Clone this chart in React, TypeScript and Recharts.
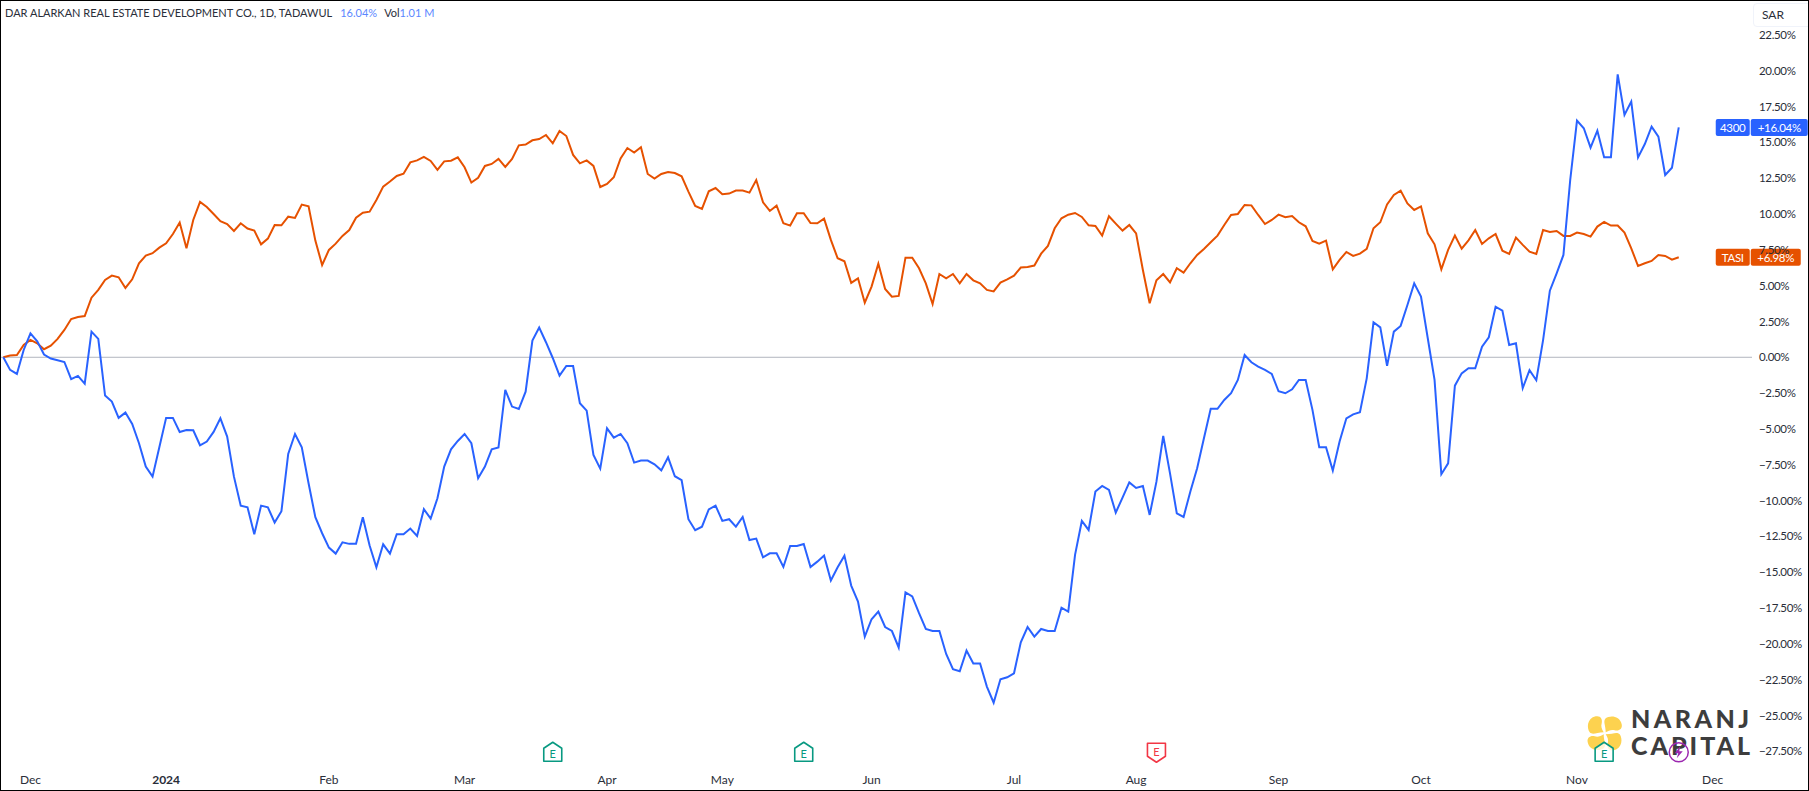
import { LineChart, Line, XAxis, YAxis, ReferenceLine, ReferenceDot } from 'recharts';

const W = 1809;
const H = 791;
const FONT = 'Lato, "Open Sans", sans-serif';

const BLUE = '#2962ff';
const ORANGE = '#e65100';
const TEXT = '#2a2e39';

// % change from first bar
const darValues = [
  0, -0.88, -1.16, 0.51, 1.67, 1.12, 0.19, -0.09, -0.21, -0.33,
  -1.53, -1.3, -1.84, 1.79, 1.28, -2.67, -3.09, -4.23, -3.86, -4.65,
  -6.0, -7.63, -8.33, -6.28, -4.23, -4.23, -5.21, -5.07, -5.09, -6.14,
  -5.88, -5.21, -4.26, -5.53, -8.33, -10.35, -10.47, -12.35, -10.35, -10.47,
  -11.53, -10.74, -6.74, -5.35, -6.28, -8.79, -11.16, -12.28, -13.28, -13.7,
  -12.91, -13.02, -13.02, -11.16, -13.14, -14.65, -13.05, -13.7, -12.35, -12.35,
  -11.95, -12.47, -10.6, -11.26, -9.84, -7.63, -6.42, -5.84, -5.35, -6.0,
  -8.44, -7.63, -6.42, -6.3, -2.28, -3.44, -3.61, -2.4, 1.16, 2.07,
  1.05, -0.05, -1.28, -0.61, -0.61, -3.21, -3.72, -6.82, -7.77, -4.96,
  -5.61, -5.35, -6.0, -7.35, -7.21, -7.21, -7.47, -7.89, -6.98, -8.3,
  -8.58, -11.3, -12.07, -11.82, -10.61, -10.35, -11.42, -11.3, -11.82, -11.14,
  -12.75, -12.65, -13.96, -13.68, -13.68, -14.63, -13.17, -13.17, -13.03, -14.63,
  -14.26, -13.84, -15.58, -14.65, -13.84, -15.93, -17.05, -19.49, -18.28, -17.75,
  -18.82, -19.1, -20.25, -16.4, -16.68, -17.86, -18.96, -19.1, -19.1, -20.7,
  -21.77, -21.91, -20.47, -21.37, -21.37, -22.98, -24.1, -22.47, -22.33, -22.05,
  -19.89, -18.82, -19.49, -18.96, -19.1, -19.1, -17.47, -17.75, -13.79, -11.42,
  -12.05, -9.37, -8.98, -9.26, -10.84, -9.79, -8.73, -9.12, -8.98, -11.0,
  -8.68, -5.49, -8.1, -10.89, -11.14, -9.37, -7.75, -5.65, -3.6, -3.6,
  -2.98, -2.51, -1.58, 0.16, -0.35, -0.65, -0.88, -1.16, -2.37, -2.51,
  -2.23, -1.58, -1.58, -3.67, -6.28, -6.28, -7.91, -5.88, -4.26, -3.98,
  -3.84, -1.47, 2.44, 2.09, -0.6, 1.79, 2.19, 3.65, 5.16, 4.23,
  1.33, -1.58, -8.16, -7.4, -1.98, -1.12, -0.77, -0.77, 0.74, 1.4,
  3.53, 3.26, 0.86, 0.98, -2.15, -0.9, -1.6, 1.2, 4.65, 5.86,
  7.14, 12.37, 16.51, 15.98, 14.63, 15.81, 13.95, 13.95, 19.74, 16.91,
  17.84, 13.95, 14.88, 16.09, 15.4, 12.72, 13.23, 16.04,
];

const tasiValues = [
  0, 0.12, 0.16, 0.86, 1.21, 0.98, 0.56, 0.81, 1.28, 1.91,
  2.67, 2.81, 2.88, 4.16, 4.7, 5.4, 5.7, 5.58, 4.84, 5.44,
  6.56, 7.09, 7.26, 7.65, 7.95, 8.6, 9.4, 7.6, 9.58, 10.84,
  10.49, 10.0, 9.49, 9.3, 8.81, 9.35, 8.98, 8.84, 7.88, 8.28,
  9.23, 9.21, 9.81, 9.72, 10.65, 10.53, 8.14, 6.44, 7.49, 7.93,
  8.47, 8.88, 9.74, 10.09, 10.16, 10.98, 11.91, 12.26, 12.65, 12.81,
  13.6, 13.74, 13.98, 13.7, 13.07, 13.67, 13.72, 13.95, 13.26, 12.19,
  12.53, 13.35, 13.49, 13.84, 13.28, 13.84, 14.79, 14.84, 15.14, 15.23,
  15.51, 14.93, 15.79, 15.44, 14.12, 13.53, 13.74, 13.35, 11.88, 12.09,
  12.56, 13.88, 14.6, 14.28, 14.65, 12.79, 12.47, 12.79, 12.93, 12.86,
  12.63, 11.56, 10.56, 10.35, 11.58, 11.81, 11.37, 11.42, 11.63, 11.63,
  11.49, 12.37, 10.81, 10.21, 10.58, 9.35, 9.19, 10.05, 10.05, 9.37,
  9.35, 9.67, 8.19, 6.91, 6.7, 5.19, 5.51, 3.81, 4.93, 6.53,
  4.77, 4.23, 4.28, 6.95, 6.95, 6.21, 5.16, 3.72, 5.81, 5.51,
  5.81, 5.16, 5.81, 5.37, 5.16, 4.7, 4.6, 5.21, 5.44, 5.7,
  6.26, 6.3, 6.4, 7.23, 7.77, 9.0, 9.7, 9.95, 10.07, 9.79,
  9.21, 9.16, 8.49, 9.84, 9.33, 8.84, 9.23, 8.65, 6.09, 3.77,
  5.37, 5.81, 5.23, 6.21, 5.91, 6.56, 7.14, 7.56, 8.02, 8.49,
  9.23, 9.93, 10.0, 10.63, 10.6, 9.93, 9.3, 9.58, 9.95, 9.77,
  9.86, 9.42, 9.14, 8.12, 7.93, 8.14, 6.14, 6.79, 7.35, 7.07,
  7.23, 7.56, 9.0, 9.42, 10.67, 11.33, 11.63, 10.74, 10.28, 10.53,
  8.65, 7.88, 6.14, 7.49, 8.49, 7.58, 8.16, 8.88, 7.91, 8.3,
  8.6, 7.44, 7.21, 8.35, 7.84, 7.37, 7.21, 8.88, 8.74, 8.81,
  8.47, 8.47, 8.7, 8.6, 8.42, 9.12, 9.44, 9.19, 9.19, 8.7,
  7.6, 6.37, 6.56, 6.72, 7.14, 7.07, 6.81, 6.98,
];

const monthTicks = [4, 24, 48, 68, 89, 106, 128, 149, 167, 188, 209, 232, 252];
const monthLabels = ['Dec', '2024', 'Feb', 'Mar', 'Apr', 'May', 'Jun', 'Jul', 'Aug', 'Sep', 'Oct', 'Nov', 'Dec'];

const priceTicks = [
  -27.5, -25, -22.5, -20, -17.5, -15, -12.5, -10, -7.5, -5, -2.5,
  0, 2.5, 5, 7.5, 10, 12.5, 15, 17.5, 20, 22.5,
];

const greenEarnings = [81, 118, 236];
const redEarnings = [170];
const dividendDays = [247];
const markerLevel = -27.56;

const lastDay = darValues.length - 1;
const chartData = darValues.map((dar, i) => ({ day: i, dar, tasi: tasiValues[i] }));

const formatPct = (v: number) => (v < 0 ? '\u2212' : '') + Math.abs(v).toFixed(2) + '%';

function MonthTick({ x, y, payload }: any) {
  const label = monthLabels[monthTicks.indexOf(payload.value)];
  const isYear = label === '2024';
  return (
    <text
      x={x}
      y={y}
      textAnchor="middle"
      dominantBaseline="central"
      fontFamily={FONT}
      fontSize={12}
      fontWeight={isYear ? 700 : 400}
      fill={TEXT}
    >
      {label}
    </text>
  );
}

function EarningsMark({ cx, cy, color, flip }: any) {
  const outline = flip
    ? 'M-9,-9 H9 V4 L0,10 L-9,4 Z'
    : 'M0,-10 L9,-4 V9 H-9 V-4 Z';
  return (
    <g transform={`translate(${cx},${cy})`}>
      <path d={outline} fill="#ffffff" fillOpacity={0.75} stroke={color} strokeWidth={1.6} strokeLinejoin="round" />
      <text x={0} y={flip ? -0.5 : 1.5} textAnchor="middle" dominantBaseline="central" fontFamily={FONT} fontSize={11} fill={color}>
        E
      </text>
    </g>
  );
}

function DividendMark({ cx, cy }: any) {
  return (
    <g transform={`translate(${cx},${cy})`}>
      <circle r={9.5} fill="none" stroke="#9c27b0" strokeWidth={1.5} />
      <path d="M1.5,-6 L-4,1 H-0.5 L-2,6 L4,-1 H0.5 Z" fill="#9c27b0" />
    </g>
  );
}

function PriceTag({ cx, cy, name, pct, color, pctWidth }: any) {
  // cx is the last bar, the tag itself sits on the price scale
  const left = cx + 37;
  const split = cx + 71;
  const top = cy - 8.5;
  const textProps = {
    y: cy + 0.5,
    dominantBaseline: 'central' as const,
    fontFamily: FONT,
    fontSize: 11.5,
    letterSpacing: -0.3,
    fill: '#ffffff',
    textAnchor: 'middle' as const,
  };
  return (
    <g>
      <rect x={left} y={top} width={split - left} height={17} rx={2} fill={color} />
      <rect x={split + 1} y={top} width={pctWidth} height={17} rx={2} fill={color} />
      <text x={(left + split) / 2} {...textProps}>{name}</text>
      <text x={split + 1 + pctWidth / 2} {...textProps}>{pct}</text>
    </g>
  );
}

function Watermark() {
  const petal = 'M1,-1 C1,-8 -2,-12 1,-15 C5,-18 15,-18 17,-9 C18,-4 14,-2 10,-3 C7,-4 4,-3 1,-1 Z';
  return (
    <svg width={W} height={H} style={{ position: 'absolute', left: 0, top: 0 }}>
      <g transform="translate(1604.7,733.3)" fill="#fdd24f">
        {[0, 90, 180, 270].map((a) => (
          <path key={a} d={petal} transform={`rotate(${a})`} />
        ))}
      </g>
      <g fontFamily={FONT} fontWeight={900} fontSize={25} fill="#3d3d3d">
        <text x={1631} y={728} textLength={118}>NARANJ</text>
        <text x={1631} y={755} textLength={119}>CAPITAL</text>
      </g>
    </svg>
  );
}

export default function App() {
  return (
    <div
      style={{
        position: 'fixed',
        left: 0,
        top: 0,
        width: W,
        height: H,
        boxSizing: 'border-box',
        background: '#ffffff',
        overflow: 'hidden',
      }}
    >
      <Watermark />
      <div style={{ position: 'absolute', left: 0, top: 0 }}>
        <LineChart width={W} height={H} data={chartData} margin={{ top: 0, right: 0, bottom: 0, left: 0 }}>
          <XAxis
            dataKey="day"
            type="number"
            domain={[-0.49, 257.8]}
            ticks={monthTicks}
            interval={0}
            height={26}
            axisLine={false}
            tickLine={false}
            tick={<MonthTick />}
            tickMargin={8}
            allowDataOverflow
          />
          <YAxis
            orientation="right"
            type="number"
            domain={[-28.45, 24.93]}
            ticks={priceTicks}
            interval={0}
            width={57}
            axisLine={false}
            tickLine={false}
            tickFormatter={formatPct}
            tick={{ fontFamily: FONT, fontSize: 11.5, letterSpacing: -0.35, fill: TEXT }}
            tickMargin={1}
            allowDataOverflow
          />
          <ReferenceLine y={0} stroke="#b2b5be" strokeWidth={1} />
          <Line dataKey="tasi" stroke={ORANGE} strokeWidth={2} dot={false} activeDot={false} isAnimationActive={false} type="linear" />
          <Line dataKey="dar" stroke={BLUE} strokeWidth={2} dot={false} activeDot={false} isAnimationActive={false} type="linear" />
          {greenEarnings.map((d) => (
            <ReferenceDot key={d} x={d} y={markerLevel} shape={<EarningsMark color="#089981" />} />
          ))}
          {redEarnings.map((d) => (
            <ReferenceDot key={d} x={d} y={markerLevel} shape={<EarningsMark color="#f23645" flip />} />
          ))}
          {dividendDays.map((d) => (
            <ReferenceDot key={d} x={d} y={markerLevel} shape={<DividendMark />} />
          ))}
          <ReferenceDot
            x={lastDay}
            y={darValues[lastDay]}
            shape={<PriceTag name="4300" pct="+16.04%" color={BLUE} pctWidth={57} />}
          />
          <ReferenceDot
            x={lastDay}
            y={tasiValues[lastDay]}
            shape={<PriceTag name="TASI" pct="+6.98%" color={ORANGE} pctWidth={50} />}
          />
        </LineChart>
      </div>

      {/* legend row */}
      <div
        style={{
          position: 'absolute',
          left: 5,
          top: 5,
          fontFamily: FONT,
          fontSize: 11,
          lineHeight: '15px',
          color: TEXT,
          whiteSpace: 'nowrap',
        }}
      >
        <span>DAR ALARKAN REAL ESTATE DEVELOPMENT CO., 1D, TADAWUL</span>
        <span style={{ color: '#5b87ff', marginLeft: 8 }}>16.04%</span>
        <span style={{ marginLeft: 7 }}>Vol</span>
        <span style={{ color: '#5b87ff' }}>1.01 M</span>
      </div>

      <div
        style={{
          position: 'absolute',
          left: 1753,
          top: 3,
          width: 60,
          height: 24,
          boxSizing: 'border-box',
          border: '1px solid #f0f3fa',
          borderRadius: 4,
          background: '#ffffff',
          fontFamily: FONT,
          fontSize: 12,
          lineHeight: '22px',
          paddingLeft: 8,
          color: TEXT,
        }}
      >
        SAR
      </div>

      {/* panel frame */}
      <div
        style={{
          position: 'absolute',
          left: 0,
          top: 0,
          width: W,
          height: H,
          boxSizing: 'border-box',
          border: '1px solid #000000',
          pointerEvents: 'none',
        }}
      />
    </div>
  );
}
